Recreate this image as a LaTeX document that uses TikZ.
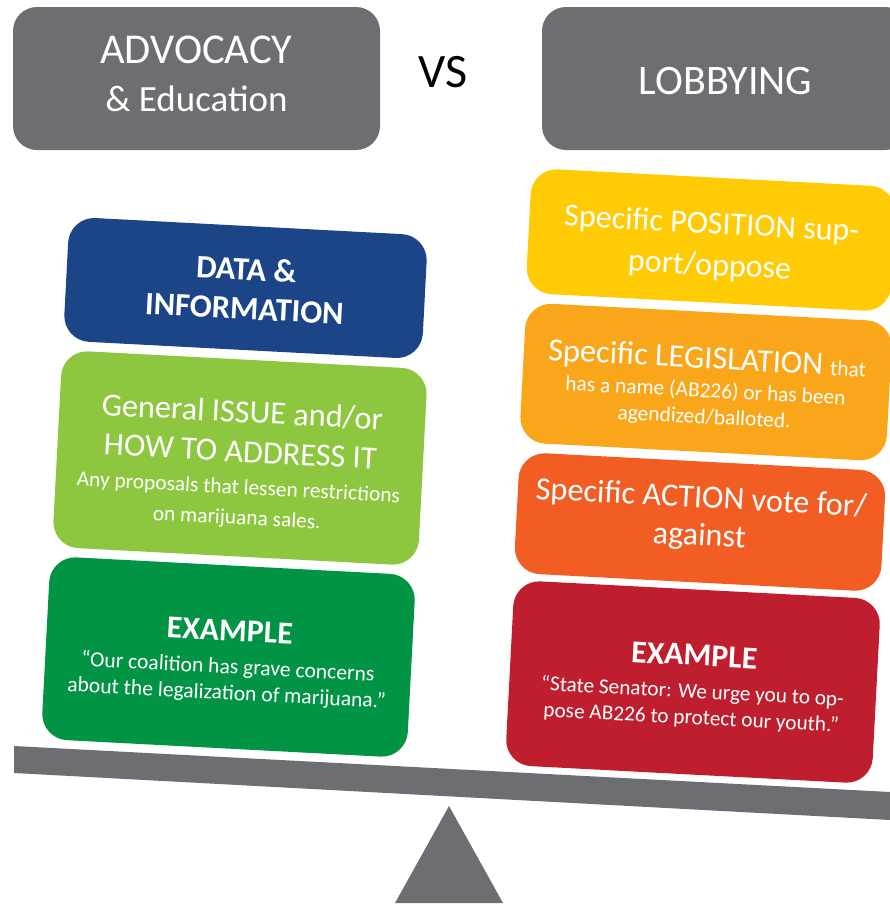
\documentclass[tikz,border=0pt]{standalone}
\usepackage{fontspec}
\setmainfont{Carlito}
\definecolor{cgray}{HTML}{6D6E71}
\definecolor{cblue}{HTML}{1C4587}
\definecolor{clime}{HTML}{8DC63F}
\definecolor{cgreen}{HTML}{009444}
\definecolor{cyellow}{HTML}{FFCB05}
\definecolor{camber}{HTML}{FAA61A}
\definecolor{corange}{HTML}{F15D22}
\definecolor{cred}{HTML}{BE1E2D}
\tikzset{
  card/.style={rounded corners=26pt,minimum width=#1,rotate=-3,text=white,align=center,inner sep=0pt},
  head/.style={rounded corners=24pt,fill=cgray,minimum width=367pt,minimum height=143pt,text=white,align=center,inner sep=0pt},
}
% one text line: font size, line height, text
\newcommand{\tl}[3]{\fontsize{#1}{#1}\selectfont\rule[-.3\dimexpr#2pt\relax]{0pt}{#2pt}#3}
% extra room above a first line, which lowers the block
\newcommand{\pad}[1]{\rule{0pt}{#1pt}}
\begin{document}
\begin{tikzpicture}[x=1pt,y=-1pt]
\useasboundingbox (0,0) rectangle (890,906);
\clip (0,0) rectangle (890,906);
\node[head] (adv) at (196.5,78.5) {\tl{42.5}{47}{ADVOCACY}\\\tl{37}{47}{\& Education}};
\node[head] (lob) at (725.5,78.5) {\pad{47}\tl{42}{47}{LOBBYING}};
\node[text=black] (vs) at (443,72) {\pad{45}\tl{48}{50}{VS}};
\node[card=359pt,fill=cblue,minimum height=124pt] (data) at (245.5,288) {\pad{35}\tl{32.5}{38}{\bfseries DATA \&}\\\tl{32.5}{38}{\bfseries INFORMATION}};
\node[card=366pt,fill=clime,minimum height=197pt] (issue) at (240,458) {\pad{40}\tl{32.3}{37}{General ISSUE and/or}\\\tl{32.3}{39}{HOW TO ADDRESS IT}\\\tl{21.4}{28}{Any proposals that lessen restrictions}\\\tl{21.4}{30}{on marijuana sales.}};
\node[card=366pt,fill=cgreen,minimum height=183pt] (exa) at (228.5,657) {\pad{34}\tl{31.8}{40}{\bfseries EXAMPLE}\\\tl{21.6}{28}{“Our coalition has grave concerns}\\\tl{21.6}{24}{about the legalization of marijuana.”}};
\node[card=365pt,fill=cyellow,minimum height=125pt] (pos) at (711,240) {\pad{41}\tl{32}{39}{Specific POSITION sup-}\\\tl{32}{41}{port/oppose}};
\node[card=367pt,fill=camber,minimum height=140pt] (leg) at (706,382) {\pad{36}\tl{32.3}{36}{Specific LEGISLATION \fontsize{21.4}{21.4}\selectfont that}\\\tl{21.4}{24.5}{has a name (AB226) or has been}\\\tl{21.4}{25.5}{agendized/balloted.}};
\node[card=367pt,fill=corange,minimum height=121pt] (act) at (700,522) {\tl{32.3}{39}{Specific ACTION vote for/}\\\tl{32.3}{36}{against}\rule[-18pt]{0pt}{1pt}};
\node[card=367pt,fill=cred,minimum height=185pt] (exb) at (693,682) {\pad{33}\tl{31.8}{40}{\bfseries EXAMPLE}\\\tl{21.3}{28}{“State Senator: We urge you to op-}\\\tl{21.3}{24}{pose AB226 to protect our youth.”}};
\fill[cgray] (14,746) -- (890,792) -- (890,820) -- (14,773) -- cycle;
\fill[cgray] (449,806) -- (503,903) -- (395,903) -- cycle;
\end{tikzpicture}
\end{document}
